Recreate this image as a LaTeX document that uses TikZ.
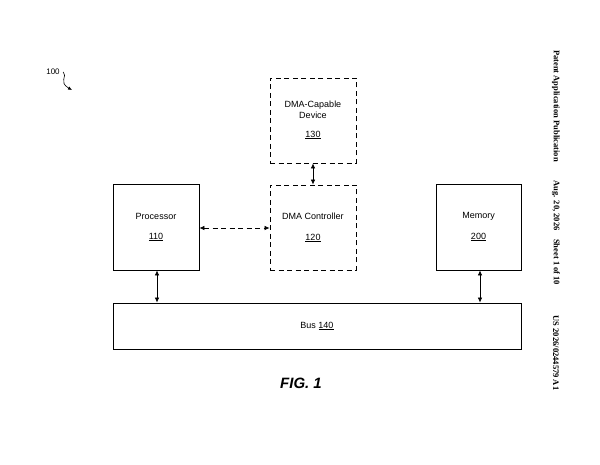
\documentclass[tikz,border=0pt]{standalone}
\usepackage{fontspec}
\setmainfont{Liberation Sans}
\newfontfamily\serifb{Liberation Serif}
\usetikzlibrary{arrows.meta}
\begin{document}
\begin{tikzpicture}[x=1pt,y=-1pt,
  box/.style={draw,line width=0.8pt},
  dbox/.style={draw,line width=0.8pt,dash pattern=on 5pt off 3.5pt},
  lab/.style={font=\fontsize{9}{11}\selectfont,align=center},
  arr/.style={line width=0.7pt,{Latex[length=5pt,width=4.5pt]}-{Latex[length=5pt,width=4.5pt]}}]
\useasboundingbox (0,0) rectangle (600,465);
\node[dbox,minimum width=86pt,minimum height=85pt] (dev) at (313,120.5) {};
\node[lab] at (313,110) {DMA-Capable\\Device};
\node[lab] at (313,135) {\underline{130}};
\node[dbox,minimum width=86pt,minimum height=85pt] (ctl) at (313,227.5) {};
\node[lab] at (313,216) {DMA Controller};
\node[lab] at (313,238) {\underline{120}};
\node[box,minimum width=86pt,minimum height=86pt] (proc) at (156,227) {};
\node[lab] at (156,216) {Processor};
\node[lab] at (156,237) {\underline{110}};
\node[box,minimum width=85pt,minimum height=86pt] (mem) at (478.5,227) {};
\node[lab] at (478.5,216) {Memory};
\node[lab] at (478.5,237) {\underline{200}};
\node[box,minimum width=408pt,minimum height=46pt] (bus) at (317,326) {};
\node[lab] at (317,326) {Bus \underline{140}};
\draw[arr] (dev.south) -- (ctl.north);
\draw[arr,dash pattern=on 5pt off 3.5pt] (proc.east |- 0,228) -- (ctl.west |- 0,228);
\draw[arr] (proc.south -| 157,0) -- (bus.north -| 157,0);
\draw[arr] (mem.south -| 480,0) -- (bus.north -| 480,0);
\node[font=\fontsize{15}{17}\selectfont\bfseries\itshape] (fig) at (301,383) {FIG. 1};
\node[font=\fontsize{8}{9}\selectfont] (ref) at (53,72) {100};
\coordinate (refend) at (72,90);
\draw[line width=0.6pt,-{Latex[length=4pt,width=3.5pt]}] (ref.east) .. controls (68,76) and (58,82) .. (refend);
\node[rotate=-90,font=\fontsize{8.5}{9}\selectfont\serifb\bfseries] (t1) at (556,106) {Patent Application Publication};
\node[rotate=-90,font=\fontsize{8.5}{9}\selectfont\serifb\bfseries] (t2) at (556,233) {Aug. 20, 2026\quad Sheet 1 of 10};
\node[rotate=-90,font=\fontsize{8.5}{9}\selectfont\serifb\bfseries] (t3) at (556,353) {US 2026/0244579 A1};
\end{tikzpicture}
\end{document}
